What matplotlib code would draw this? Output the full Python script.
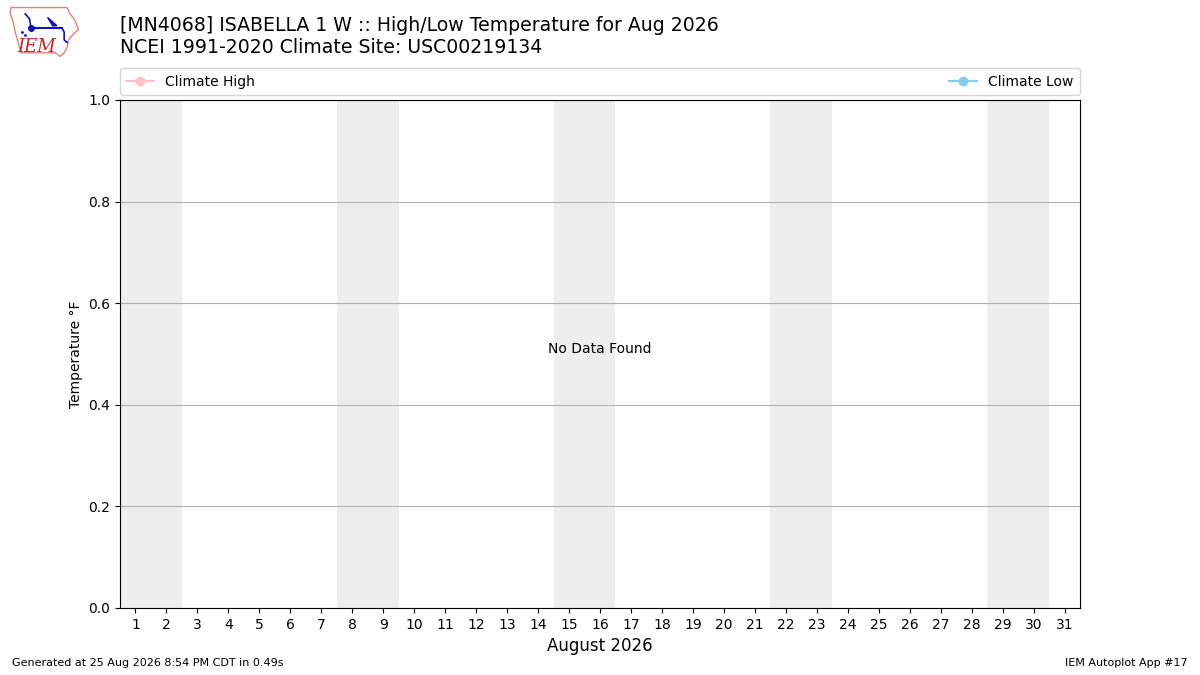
import matplotlib
matplotlib.use("Agg")
import matplotlib.pyplot as plt
from matplotlib.patches import Polygon

days = list(range(1, 32))
day_labels = [str(d) for d in days]
weekend_starts = [1, 8, 15, 22, 29]
climate_high = []
climate_low = []
yticks = [0.0, 0.2, 0.4, 0.6, 0.8, 1.0]

fig = plt.figure(figsize=(12, 6.75), dpi=100)
ax = fig.add_axes([0.1, 0.0993, 0.8, 0.7526])

for s in weekend_starts:
    ax.axvspan(s - 0.5, s + 1.5, color="#EEEEEE", zorder=0, lw=0)

ax.plot(climate_high, climate_high, color="pink", marker="o", label="Climate High")
ax.plot(climate_low, climate_low, color="skyblue", marker="o", label="Climate Low")

ax.text(0.5, 0.51, "No Data Found", transform=ax.transAxes, ha="center", va="center", fontsize=10)

ax.set_xlim(0.5, 31.5)
ax.set_ylim(0, 1)
ax.set_xticks(days)
ax.set_xticklabels(day_labels, fontsize=10)
ax.set_yticks(yticks)
ax.set_yticklabels([f"{v:.1f}" for v in yticks], fontsize=10)
ax.yaxis.grid(True, color="#B0B0B0", lw=0.8)
ax.set_axisbelow(True)
ax.set_ylabel("Temperature °F", fontsize=10)
ax.set_xlabel("August 2026", fontsize=12)

ax.legend(loc="lower left", bbox_to_anchor=(0, 1.01, 1, 0.05), ncol=2, mode="expand",
          borderaxespad=0.0, fontsize=10, borderpad=0.45)

fig.text(0.1, 0.976, "[MN4068] ISABELLA 1 W :: High/Low Temperature for Aug 2026\nNCEI 1991-2020 Climate Site: USC00219134",
         fontsize=13.6, ha="left", va="top", linespacing=1.2)
fig.text(0.01, 0.01, "Generated at 25 Aug 2026 8:54 PM CDT in 0.49s", fontsize=8, ha="left", va="bottom")
fig.text(0.99, 0.01, "IEM Autoplot App #17", fontsize=8, ha="right", va="bottom")

# Logo
lax = fig.add_axes([8 / 1200, (675 - 58) / 675, 72 / 1200, 52 / 675])
lax.set_xlim(0, 1)
lax.set_ylim(0, 1)
lax.axis("off")
iowa = [(0.04, 0.97), (0.82, 0.97), (0.86, 0.85), (0.92, 0.75), (0.98, 0.55), (0.90, 0.45),
        (0.84, 0.35), (0.82, 0.20), (0.78, 0.10), (0.72, 0.03), (0.66, 0.10),
        (0.18, 0.10), (0.14, 0.30), (0.10, 0.50), (0.07, 0.70), (0.03, 0.85)]
lax.add_patch(Polygon(iowa, closed=True, fill=False, edgecolor="#E88080", lw=1.0))
lax.text(0.40, 0.22, "IEM", color="#D02020", fontsize=13, fontstyle="italic",
         family="DejaVu Serif", ha="center", va="center")
lax.plot([0.32, 0.75], [0.57, 0.57], color="#1010C0", lw=1.5)
lax.plot([0.32], [0.57], "o", color="#1010C0", ms=4)
lax.plot([0.24, 0.30, 0.32], [0.85, 0.75, 0.57], color="#1010C0", lw=1.2)
lax.fill([0.55, 0.68, 0.62], [0.78, 0.62, 0.62], color="#1010C0")
lax.plot([0.75, 0.78, 0.78, 0.82], [0.57, 0.50, 0.35, 0.30], color="#1010C0", lw=1.2)
lax.plot([0.20, 0.24], [0.50, 0.45], ".", color="#1010C0", ms=2)

fig.savefig("out.png", dpi=100)
